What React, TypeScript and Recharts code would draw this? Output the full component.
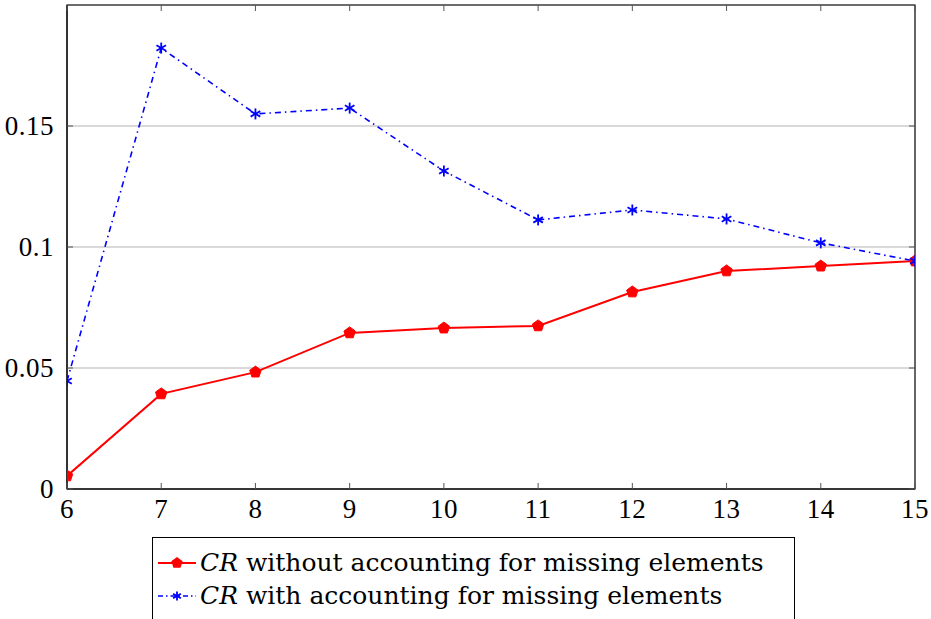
import { LineChart, Line, XAxis, YAxis, CartesianGrid, ReferenceArea } from 'recharts';

const sizes = [6, 7, 8, 9, 10, 11, 12, 13, 14, 15];
const withoutMissing = [0.0054, 0.0393, 0.0483, 0.0645, 0.0665, 0.0674, 0.0814, 0.0901, 0.0921, 0.0942];
const withMissing = [0.0446, 0.1822, 0.155, 0.1574, 0.1314, 0.1112, 0.1153, 0.1116, 0.1017, 0.0942];
const yTicks = [0, 0.05, 0.1, 0.15];
const yLabels = ['0', '0.05', '0.1', '0.15'];

const data = sizes.map((n, i) => ({ n, without: withoutMissing[i], with: withMissing[i] }));

const W = 931;
const H = 619;
const X_H = 30;
const M = { top: 5, right: 16, bottom: 130 - X_H, left: 0 };
const Y_W = 67;
const FONT = 'Liberation Serif, Times New Roman, serif';
const LEGEND_FONT = 'DejaVu Serif, serif';

const pentagon = (cx: number, cy: number, r: number) => {
  const pts = [];
  for (let k = 0; k < 5; k++) {
    const a = -Math.PI / 2 + (k * 2 * Math.PI) / 5;
    pts.push(`${cx + r * Math.cos(a)},${cy + r * Math.sin(a)}`);
  }
  return pts.join(' ');
};

const RedDot = (props: any) => {
  const { cx, cy, index } = props;
  return <polygon key={`r-${index}`} points={pentagon(cx, cy, 6)} fill="#ff0000" stroke="#ff0000" strokeWidth={1} />;
};

const Star = ({ cx, cy, r, color }: any) => (
  <g stroke={color} strokeWidth={1.8}>
    <line x1={cx} y1={cy - r} x2={cx} y2={cy + r} />
    <line x1={cx - r * 0.87} y1={cy - r * 0.5} x2={cx + r * 0.87} y2={cy + r * 0.5} />
    <line x1={cx - r * 0.87} y1={cy + r * 0.5} x2={cx + r * 0.87} y2={cy - r * 0.5} />
  </g>
);

const BlueDot = (props: any) => {
  const { cx, cy, index } = props;
  return <Star key={`b-${index}`} cx={cx} cy={cy} r={5.5} color="#0000ff" />;
};

const XTick = (props: any) => {
  const { x, y, payload } = props;
  return (
    <g>
      <line x1={x} y1={y} x2={x} y2={y - 6} stroke="#555" />
      <line x1={x} y1={M.top} x2={x} y2={M.top + 6} stroke="#555" />
      <text x={x} y={y + 29} textAnchor="middle" fontFamily={FONT} fontSize={27} fill="#000" letterSpacing={0.5}>
        {payload.value}
      </text>
    </g>
  );
};

const YTick = (props: any) => {
  const { x, y, payload, index } = props;
  return (
    <g>
      <line x1={Y_W} y1={y} x2={Y_W + 6} y2={y} stroke="#555" />
      <line x1={W - M.right} y1={y} x2={W - M.right - 6} y2={y} stroke="#555" />
      <text x={x - 13} y={y + 9} textAnchor="end" fontFamily={FONT} fontSize={27} fill="#000" letterSpacing={0.5}>
        {yLabels[index] ?? payload.value}
      </text>
    </g>
  );
};

const LegendBox = () => (
  <div
    style={{
      position: 'absolute',
      left: 152,
      top: 537,
      width: 643,
      boxSizing: 'border-box',
      border: '1px solid #000',
      background: '#fff',
      padding: '8px 0 10px 5px',
      fontFamily: LEGEND_FONT,
      fontSize: 25,
      lineHeight: '33px',
      color: '#000',
      whiteSpace: 'nowrap',
    }}
  >
    <div style={{ display: 'flex', alignItems: 'center' }}>
      <svg width={38} height={20} style={{ marginRight: 4 }}>
        <line x1={0} y1={10} x2={38} y2={10} stroke="#ff0000" strokeWidth={2} />
        <polygon points={pentagon(19, 10, 6)} fill="#ff0000" />
      </svg>
      <span><i>CR</i> without accounting for missing elements</span>
    </div>
    <div style={{ display: 'flex', alignItems: 'center' }}>
      <svg width={38} height={20} style={{ marginRight: 4 }}>
        <line x1={0} y1={10} x2={38} y2={10} stroke="#0000ff" strokeWidth={1.6} strokeDasharray="5 3 1.5 3" />
        <Star cx={19} cy={10} r={4.5} color="#0000ff" />
      </svg>
      <span><i>CR</i> with accounting for missing elements</span>
    </div>
  </div>
);

export default function App() {
  return (
    <div style={{ position: 'absolute', left: 0, top: 0, width: W, height: H, background: '#fff', overflow: 'hidden' }}>
      <LineChart width={W} height={H} data={data} margin={M}>
        <CartesianGrid horizontal vertical={false} stroke="#b3b3b3" strokeWidth={1} />
        <XAxis
          dataKey="n"
          type="number"
          domain={[6, 15]}
          ticks={sizes}
          tickSize={0}
          tickMargin={0}
          tick={<XTick />}
          stroke="#000"
          height={X_H}
          allowDataOverflow
        />
        <YAxis
          type="number"
          domain={[0, 0.2]}
          ticks={yTicks}
          tickSize={0}
          tickMargin={0}
          tick={<YTick />}
          stroke="#000"
          width={Y_W}
        />
        <ReferenceArea x1={6} x2={15} y1={0} y2={0.2} fill="none" stroke="#000" strokeWidth={1.2} ifOverflow="visible" />
        <Line
          dataKey="without"
          stroke="#ff0000"
          strokeWidth={2}
          dot={RedDot}
          isAnimationActive={false}
        />
        <Line
          dataKey="with"
          stroke="#0000ff"
          strokeWidth={1.6}
          strokeDasharray="6 4 1.5 4"
          dot={BlueDot}
          isAnimationActive={false}
        />
      </LineChart>
      <LegendBox />
    </div>
  );
}
